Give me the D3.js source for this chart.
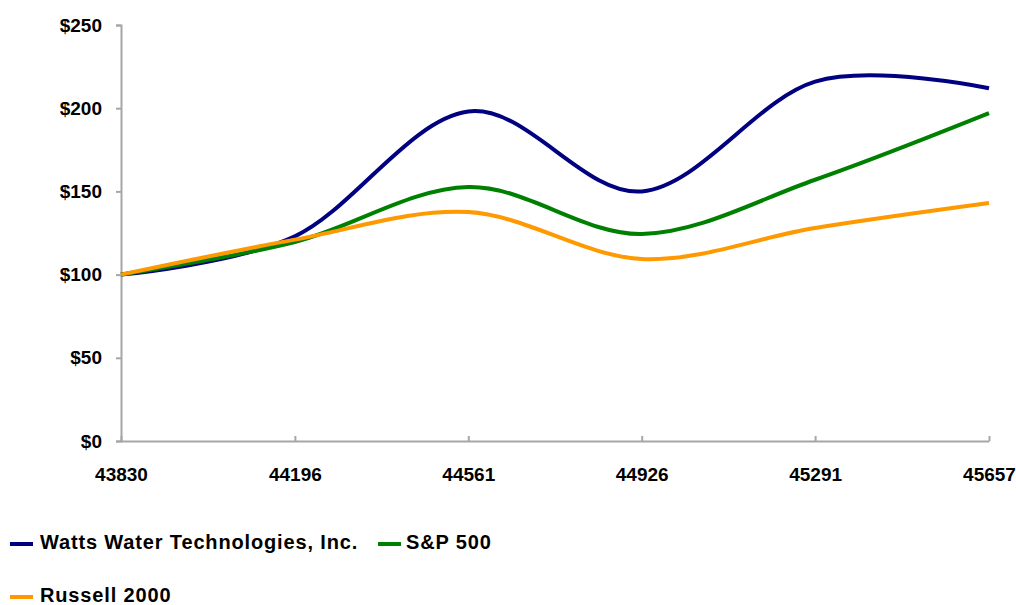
<!DOCTYPE html>
<html><head><meta charset="utf-8">
<script src="https://cdn.jsdelivr.net/npm/d3@7"></script>
<style>body{margin:0;background:#fff;font-family:"Liberation Sans",Arial,sans-serif;}</style>
</head><body><svg id="c" width="1016" height="605"></svg>
<script>
const xTicks = [43830, 44196, 44561, 44926, 45291, 45657];
const yTicks = [0, 50, 100, 150, 200, 250];
const seriesNames = ["Watts Water Technologies, Inc.", "S&P 500", "Russell 2000"];
const seriesColors = ["#000080", "#008000", "#FF9900"];
const watts = [100, 123, 198, 150, 216, 212];
const sp500 = [100, 119.6, 152.6, 124.4, 157, 197];
const russell = [100, 121, 137.6, 109.4, 128, 143];
const allSeries = [watts, sp500, russell];

const svg = d3.select("#c");
const x = d3.scaleLinear().domain([43830, 45657]).range([121, 989]);
const y = d3.scaleLinear().domain([0, 250]).range([441, 25]);
const axisColor = "#a6a6a6";
const FONT = "Liberation Sans, Arial, sans-serif";

// y axis
const ya = svg.append("g").attr("transform", "translate(121,0)")
  .call(d3.axisLeft(y).tickValues(yTicks).tickSize(5).tickFormat(d => "$" + d));
ya.attr("font-size", null).attr("font-family", null);
ya.select(".domain").attr("stroke", axisColor).attr("stroke-width", 2);
ya.selectAll(".tick line").attr("stroke", axisColor).attr("stroke-width", 2);
ya.selectAll(".tick text").attr("x", -19).attr("fill", "#000")
  .style("font-family", FONT).style("font-weight", "bold").style("font-size", "19px");

// x axis
const xa = svg.append("g").attr("transform", "translate(0,441)")
  .call(d3.axisBottom(x).tickValues(xTicks).tickSize(-5).tickSizeOuter(0).tickFormat(d => d));
xa.attr("font-size", null).attr("font-family", null);
xa.select(".domain").attr("stroke", axisColor).attr("stroke-width", 2);
xa.selectAll(".tick line").attr("stroke", axisColor).attr("stroke-width", 2);
xa.selectAll(".tick text").attr("y", 27).attr("fill", "#000")
  .style("font-family", FONT).style("font-weight", "bold").style("font-size", "19px");

const line = d3.line().x((d, i) => x(xTicks[i])).y(d => y(d)).curve(d3.curveCardinal.tension(0));
allSeries.forEach((s, k) => {
  svg.append("path").datum(s).attr("d", line).attr("fill", "none")
    .attr("stroke", seriesColors[k]).attr("stroke-width", 4).attr("stroke-linecap", "butt");
});

// legend
const legPos = [[10, 544, 40], [378, 544, 406], [10, 597, 40]];
seriesNames.forEach((n, k) => {
  const [lx, ly, tx] = legPos[k];
  svg.append("line").attr("x1", lx).attr("x2", lx + 23).attr("y1", ly).attr("y2", ly)
    .attr("stroke", seriesColors[k]).attr("stroke-width", 4);
  svg.append("text").attr("x", tx).attr("y", ly + 5).text(n)
    .style("font-family", FONT).style("font-weight", "bold").style("font-size", "20px")
    .style("letter-spacing", "0.85px");
});
</script></body></html>
